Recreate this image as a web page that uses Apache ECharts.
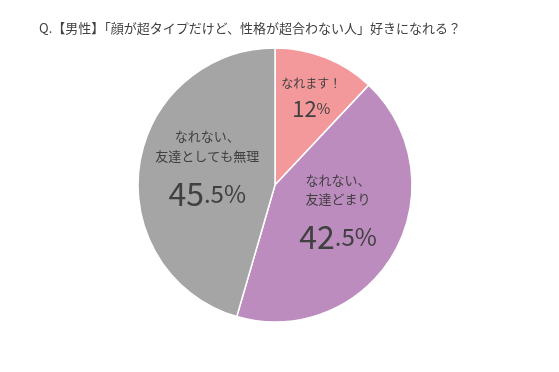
<!DOCTYPE html>
<html><head><meta charset="utf-8">
<script src="https://cdn.jsdelivr.net/npm/echarts@6/dist/echarts.min.js"></script>
<style>html,body{margin:0;padding:0;background:#fff}#c{width:559px;height:372px}</style>
</head><body><div id="c"></div>
<script>
const titleText = 'Q.【男性】「顔が超タイプだけど、性格が超合わない人」好きになれる？';
const categories = ['なれます！', 'なれない、\n友達どまり', 'なれない、\n友達としても無理'];
const values = [12, 42.5, 45.5];
const colors = ['#f4999b', '#bd8cbf', '#a5a5a5'];

const FONT = '"Noto Sans CJK JP", "Noto Sans", sans-serif';
function pctParts(v) {
  const s = String(v);
  const i = s.indexOf('.');
  return i < 0 ? [s, '%'] : [s.slice(0, i), s.slice(i) + '%'];
}
const labelCfg = [
  { small: 12, smallLH: 18, big: 22, rest: 15, bigLH: 32, offset: [10, -19] },
  { small: 13, smallLH: 19, big: 32, rest: 24, bigLH: 55, offset: [1, -3] },
  { small: 13, smallLH: 20, big: 32, rest: 24, bigLH: 56, offset: [3, -1] }
];
const data = categories.map((name, i) => {
  const c = labelCfg[i];
  const [a, b] = pctParts(values[i]);
  const lines = name.split('\n').map(l => '{s|' + l + '}').join('\n');
  return {
    name, value: values[i],
    itemStyle: { color: colors[i] },
    label: {
      offset: c.offset,
      formatter: lines + '\n{b|' + a + '}{r|' + b + '}',
      rich: {
        s: { fontSize: c.small, lineHeight: c.smallLH, color: '#404040', fontFamily: FONT },
        b: { fontSize: c.big, lineHeight: c.bigLH, color: '#404040', fontFamily: FONT },
        r: { fontSize: c.rest, lineHeight: c.bigLH, color: '#404040', fontFamily: FONT }
      }
    }
  };
});

const chart = echarts.init(document.getElementById('c'), null, { renderer: 'canvas' });
chart.setOption({
  backgroundColor: '#ffffff',
  animation: false,
  title: {
    text: titleText, left: 34, top: 17,
    textStyle: { fontSize: 13, fontWeight: 'normal', color: '#404040', fontFamily: FONT }
  },
  series: [{
    type: 'pie',
    center: [275, 185],
    radius: [0, 137],
    startAngle: 90,
    clockwise: true,
    silent: true,
    itemStyle: { borderColor: '#ffffff', borderWidth: 1.5 },
    label: { show: true, position: 'inside', align: 'center' },
    labelLine: { show: false },
    emphasis: { disabled: true },
    data
  }]
});
</script></body></html>
